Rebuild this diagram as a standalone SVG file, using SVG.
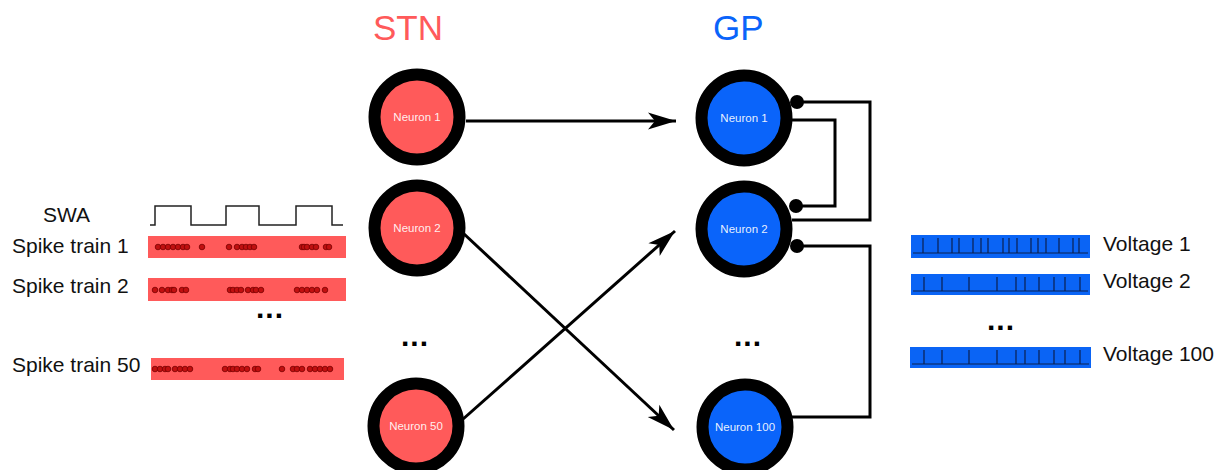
<svg xmlns="http://www.w3.org/2000/svg" width="1226" height="470" viewBox="0 0 1226 470">
<defs>
<style>
.lbl{font-family:"Liberation Sans",Arial,sans-serif;font-size:21px;fill:#111}
.title{font-family:"Liberation Sans",Arial,sans-serif;font-size:35px}
.nt{font-family:"Liberation Sans",Arial,sans-serif;font-size:11.5px;fill:#fff;fill-opacity:0.92;text-anchor:middle}
.stn{fill:#ff5a5a;stroke:#000;stroke-width:12}
.gp{fill:#0a64fa;stroke:#000;stroke-width:12}
.conn{fill:none;stroke:#000;stroke-width:3}
.dots{font-family:"Liberation Sans",Arial,sans-serif;font-size:30px;font-weight:bold;fill:#000;text-anchor:middle;letter-spacing:1px}
.sbar{fill:#ff5a5a}
.sp{fill:#c01010;stroke:#7a0000;stroke-width:0.8}
.vbar{fill:#0a64f5}
.vl{fill:none;stroke:#0a2050;stroke-width:1.2}
</style>
<marker id="arr" markerUnits="userSpaceOnUse" markerWidth="30" markerHeight="20" viewBox="-29 -10 30 20" refX="0" refY="0" orient="auto">
<path d="M0,0 L-28,-8.5 L-21,0 L-28,8.5 Z" fill="#000"/>
</marker>
</defs>
<rect width="1226" height="470" fill="#fff"/>

<text class="title" x="373" y="40" fill="#ff5a5a">STN</text>
<text class="title" x="713" y="40" fill="#0a64fa">GP</text>

<g id="connectors">
<line class="conn" x1="466" y1="121" x2="676" y2="121" marker-end="url(#arr)"/>
<line class="conn" x1="463" y1="233" x2="674" y2="430" marker-end="url(#arr)"/>
<line class="conn" x1="462" y1="420" x2="675" y2="231" marker-end="url(#arr)"/>
<polyline class="conn" points="797,102 870,102 870,220 792,220"/>
<circle cx="797" cy="102" r="7"/>
<polyline class="conn" points="791,120 835,120 835,206 796,206"/>
<circle cx="796" cy="206" r="7"/>
<polyline class="conn" points="797,246 870,246 870,417 792,417"/>
<circle cx="797" cy="246" r="7"/>
</g>

<g id="stn-neuron-1"><circle class="stn" cx="417" cy="117" r="42.5"/><text class="nt" x="417" y="121">Neuron 1</text></g>
<g id="stn-neuron-2"><circle class="stn" cx="417" cy="228" r="42.5"/><text class="nt" x="417" y="232">Neuron 2</text></g>
<g id="stn-neuron-50"><circle class="stn" cx="416" cy="426" r="42.5"/><text class="nt" x="416" y="430">Neuron 50</text></g>
<g id="gp-neuron-1"><circle class="gp" cx="744" cy="118" r="42.5"/><text class="nt" x="744" y="122">Neuron 1</text></g>
<g id="gp-neuron-2"><circle class="gp" cx="744" cy="229" r="42.5"/><text class="nt" x="744" y="233">Neuron 2</text></g>
<g id="gp-neuron-100"><circle class="gp" cx="745" cy="427" r="42.5"/><text class="nt" x="745" y="431">Neuron 100</text></g>

<text class="dots" x="415" y="346">...</text>
<text class="dots" x="748" y="346">...</text>

<g id="inputs">
<text class="lbl" x="43" y="222">SWA</text>
<polyline fill="none" stroke="#222" stroke-width="1.5" points="150,225 155,225 155,206 191,206 191,225 226,225 226,206 259,206 259,225 296,225 296,206 332,206 332,225 343,225"/>

<text class="lbl" x="12" y="253">Spike train 1</text>
<rect class="sbar" x="148" y="236" width="198" height="22"/>
<g class="sp">
<circle cx="158" cy="247" r="2.8"/><circle cx="163" cy="247" r="2.8"/><circle cx="168" cy="247" r="2.8"/><circle cx="173" cy="247" r="2.8"/><circle cx="178" cy="247" r="2.8"/><circle cx="183" cy="247" r="2.8"/><circle cx="187" cy="247" r="2.8"/><circle cx="202" cy="247" r="2.8"/><circle cx="229" cy="247" r="2.8"/><circle cx="237" cy="247" r="2.8"/><circle cx="242" cy="247" r="2.8"/><circle cx="246" cy="247" r="2.8"/><circle cx="250" cy="247" r="2.8"/><circle cx="254" cy="247" r="2.8"/><circle cx="302" cy="247" r="2.8"/><circle cx="304" cy="247" r="2.8"/><circle cx="307" cy="247" r="2.8"/><circle cx="312" cy="247" r="2.8"/><circle cx="316" cy="247" r="2.8"/><circle cx="326" cy="247" r="2.8"/><circle cx="329" cy="247" r="2.8"/>
</g>

<text class="lbl" x="12" y="293">Spike train 2</text>
<rect class="sbar" x="148" y="278" width="198" height="23"/>
<g class="sp">
<circle cx="155" cy="290" r="2.8"/><circle cx="162" cy="290" r="2.8"/><circle cx="168" cy="290" r="2.8"/><circle cx="172" cy="290" r="2.8"/><circle cx="174" cy="290" r="2.8"/><circle cx="182" cy="290" r="2.8"/><circle cx="186" cy="290" r="2.8"/><circle cx="230" cy="290" r="2.8"/><circle cx="233" cy="290" r="2.8"/><circle cx="237" cy="290" r="2.8"/><circle cx="241" cy="290" r="2.8"/><circle cx="248" cy="290" r="2.8"/><circle cx="253" cy="290" r="2.8"/><circle cx="256" cy="290" r="2.8"/><circle cx="261" cy="290" r="2.8"/><circle cx="297" cy="290" r="2.8"/><circle cx="302" cy="290" r="2.8"/><circle cx="307" cy="290" r="2.8"/><circle cx="312" cy="290" r="2.8"/><circle cx="317" cy="290" r="2.8"/><circle cx="325" cy="290" r="2.8"/>
</g>

<text class="dots" x="270" y="318">...</text>

<text class="lbl" x="12" y="372">Spike train 50</text>
<rect class="sbar" x="151" y="358" width="193" height="22"/>
<g class="sp">
<circle cx="155" cy="369" r="2.8"/><circle cx="160" cy="369" r="2.8"/><circle cx="165" cy="369" r="2.8"/><circle cx="168" cy="369" r="2.8"/><circle cx="175" cy="369" r="2.8"/><circle cx="180" cy="369" r="2.8"/><circle cx="185" cy="369" r="2.8"/><circle cx="190" cy="369" r="2.8"/><circle cx="225" cy="369" r="2.8"/><circle cx="230" cy="369" r="2.8"/><circle cx="233" cy="369" r="2.8"/><circle cx="237" cy="369" r="2.8"/><circle cx="242" cy="369" r="2.8"/><circle cx="247" cy="369" r="2.8"/><circle cx="255" cy="369" r="2.8"/><circle cx="258" cy="369" r="2.8"/><circle cx="282" cy="369" r="2.8"/><circle cx="293" cy="369" r="2.8"/><circle cx="297" cy="369" r="2.8"/><circle cx="302" cy="369" r="2.8"/><circle cx="310" cy="369" r="2.8"/><circle cx="315" cy="369" r="2.8"/><circle cx="320" cy="369" r="2.8"/><circle cx="325" cy="369" r="2.8"/><circle cx="330" cy="369" r="2.8"/>
</g>
</g>

<g id="outputs">
<rect class="vbar" x="911" y="235" width="179" height="23"/>
<path class="vl" d="M913,253 H1088 M923,253 V238 M938,253 V238 M952,253 V238 M959,253 V238 M973,253 V238 M981,253 V238 M988,253 V238 M1003,253 V238 M1009,253 V238 M1017,253 V238 M1031,253 V238 M1038,253 V238 M1046,253 V238 M1059,253 V238 M1073,253 V238 M1079,253 V238"/>
<text class="lbl" x="1103" y="251">Voltage 1</text>

<rect class="vbar" x="911" y="274" width="179" height="21"/>
<path class="vl" d="M913,291 H1088 M924,291 V277 M942,291 V277 M969,291 V277 M997,291 V277 M1016,291 V277 M1025,291 V277 M1039,291 V277 M1054,291 V277 M1065,291 V277 M1080,291 V277"/>
<text class="lbl" x="1103" y="288">Voltage 2</text>

<text class="dots" x="1001" y="330">...</text>

<rect class="vbar" x="910" y="347" width="181" height="21"/>
<path class="vl" d="M912,364 H1089 M924,364 V350 M942,364 V350 M969,364 V350 M997,364 V350 M1016,364 V350 M1025,364 V350 M1039,364 V350 M1054,364 V350 M1065,364 V350 M1080,364 V350"/>
<text class="lbl" x="1103" y="361">Voltage 100</text>
</g>
</svg>
